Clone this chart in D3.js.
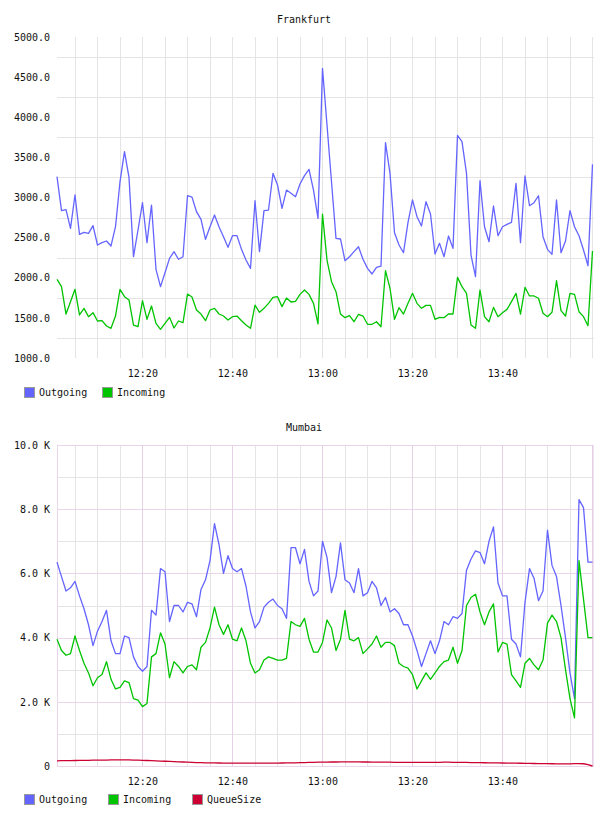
<!DOCTYPE html>
<html>
<head>
<meta charset="utf-8">
<script src="https://cdnjs.cloudflare.com/ajax/libs/d3/7.8.5/d3.min.js"></script>
<style>
body { margin: 0; background: #fff; }
text { font-family: "DejaVu Sans Mono", monospace; font-size: 10px; fill: #111; }
.domain { display: none; }
</style>
</head>
<body>
<div id="chartDiv"></div>
<script>
// one sample per minute, first sample time and end of the x range
var startTime = "12:01:02";
var endTime = "14:00:22";

var frankfurtOut = [3260, 2836, 2848, 2616, 3031, 2541, 2566, 2553, 2649, 2408,
	2437, 2458, 2396, 2636, 3197, 3571, 3251, 2262, 2595, 2935,
	2437, 2906, 2105, 1889, 2063, 2242, 2325, 2230, 2262, 3022,
	3005, 2823, 2728, 2479, 2636, 2782, 2636, 2512, 2379, 2524,
	2524, 2354, 2221, 2117, 2960, 2325, 2836, 2844, 3301, 3156,
	2865, 3093, 3052, 3010, 3168, 3272, 3351, 3093, 2740, 4609,
	3903, 3197, 2491, 2483, 2212, 2262, 2325, 2387, 2230, 2117,
	2047, 2130, 2146, 3683, 3301, 2561, 2408, 2312, 2691, 2969,
	2761, 2645, 2948, 2794, 2296, 2429, 2262, 2520, 2366, 3775,
	3696, 3301, 2283, 2013, 3209, 2636, 2449, 2894, 2524, 2636,
	2666, 2691, 3177, 2437, 3268, 2898, 2935, 3022, 2512, 2354,
	2292, 2969, 2312, 2458, 2836, 2636, 2524, 2346, 2150, 3413];

var frankfurtIn = [1980, 1889, 1548, 1702, 1856, 1536, 1619, 1515, 1565, 1461,
	1465, 1399, 1370, 1523, 1856, 1764, 1723, 1411, 1390, 1714,
	1482, 1648, 1432, 1357, 1432, 1507, 1374, 1461, 1440, 1797,
	1760, 1598, 1548, 1465, 1598, 1619, 1548, 1523, 1473, 1515,
	1523, 1465, 1411, 1370, 1660, 1569, 1619, 1681, 1756, 1764,
	1640, 1748, 1698, 1706, 1793, 1847, 1793, 1681, 1424, 2794,
	2221, 1951, 1826, 1548, 1502, 1527, 1452, 1544, 1523, 1420,
	1420, 1452, 1390, 2088, 1868, 1482, 1627, 1548, 1681, 1806,
	1681, 1619, 1656, 1656, 1482, 1507, 1502, 1548, 1548, 2005,
	1889, 1806, 1411, 1370, 1847, 1515, 1452, 1631, 1515, 1565,
	1606, 1702, 1806, 1548, 1881, 1773, 1773, 1744, 1557, 1515,
	1569, 1963, 1590, 1523, 1806, 1793, 1577, 1515, 1402, 2333];

var mumbaiOut = [6350, 5900, 5450, 5550, 5750, 5300, 4900, 4400, 3750, 4200,
	4500, 4850, 3900, 3500, 3500, 4050, 4000, 3400, 3100, 2950,
	3100, 4850, 4700, 6150, 6050, 4500, 5000, 5000, 4800, 5100,
	5050, 4650, 5500, 5800, 6400, 7550, 6900, 6000, 6550, 6150,
	6050, 6150, 5600, 4800, 4300, 4500, 4950, 5100, 5200, 5000,
	4900, 4600, 6800, 6800, 6300, 6750, 5750, 5300, 5450, 7000,
	6500, 5400, 5900, 6950, 5800, 5700, 5400, 6150, 5300, 5400,
	5750, 5550, 5000, 5250, 4800, 4900, 4750, 4400, 4400, 4050,
	3600, 3100, 3500, 3900, 3500, 3900, 4500, 4400, 4650, 4600,
	4750, 6100, 6450, 6700, 6650, 6300, 7000, 7450, 5700, 5300,
	5300, 3950, 3800, 3400, 5100, 6150, 5850, 5150, 5450, 7350,
	6250, 5900, 5000, 4000, 2900, 2100, 8300, 8050, 6350, 6350];

var mumbaiIn = [3950, 3600, 3450, 3500, 4050, 3600, 3200, 2900, 2500, 2750,
	2850, 3250, 2700, 2400, 2450, 2650, 2600, 2100, 2050, 1850,
	1950, 3400, 3500, 4150, 3800, 2750, 3250, 3100, 2900, 3100,
	3150, 3000, 3700, 3850, 4300, 4950, 4400, 4100, 4400, 3950,
	3900, 4300, 3900, 3200, 2900, 3000, 3300, 3400, 3350, 3300,
	3300, 3350, 4500, 4400, 4350, 4600, 3950, 3550, 3550, 3850,
	4550, 4300, 3600, 3950, 4850, 3950, 3900, 4000, 3500, 3650,
	3800, 4050, 3700, 3850, 3850, 3750, 3200, 3100, 3050, 2850,
	2400, 2650, 2900, 2700, 2900, 3100, 3250, 3300, 3700, 3200,
	3600, 5000, 5250, 5350, 4800, 4400, 4800, 5050, 3550, 3850,
	3800, 2850, 2650, 2450, 3200, 3350, 3150, 3000, 3300, 4450,
	4700, 4500, 4000, 3000, 2100, 1500, 6400, 5200, 4000, 4000];

var mumbaiQueue = [160, 165, 168, 170, 172, 174, 176, 178, 180, 182,
	184, 186, 188, 190, 190, 190, 188, 186, 182, 178,
	172, 166, 160, 154, 148, 142, 136, 130, 124, 118,
	112, 108, 104, 100, 98, 96, 94, 92, 92, 90,
	90, 90, 90, 90, 90, 90, 92, 92, 92, 92,
	94, 96, 98, 100, 104, 108, 112, 116, 118, 120,
	122, 124, 124, 126, 126, 126, 126, 126, 124, 124,
	122, 122, 120, 118, 118, 116, 116, 114, 114, 114,
	112, 112, 112, 114, 116, 116, 118, 118, 116, 114,
	112, 110, 108, 106, 104, 102, 100, 98, 96, 94,
	92, 90, 88, 86, 84, 80, 78, 76, 74, 72,
	70, 68, 66, 66, 68, 72, 74, 70, 40, 0];

var frankfurtTicks = [1000, 1500, 2000, 2500, 3000, 3500, 4000, 4500, 5000];
var frankfurtGrid = [1250, 1750, 2250, 2750, 3250, 3750, 4250, 4750];
var mumbaiTicks = [0, 2000, 4000, 6000, 8000, 10000];
var mumbaiGrid = [1000, 3000, 5000, 7000, 9000];
var timeLabels = ["12:20", "12:40", "13:00", "13:20", "13:40"];

var colors = {Outgoing: "#6464ff", Incoming: "#00c400", QueueSize: "#cc0033"};

var parseTime = d3.timeParse("%H:%M:%S");
var parseLabel = d3.timeParse("%H:%M");
var t0 = parseTime(startTime);
var times = frankfurtOut.map(function(d, i) { return d3.timeMinute.offset(t0, i); });

var svg = d3.select("#chartDiv").append("svg")
	.attr("width", 608)
	.attr("height", 816);

var x = d3.scaleTime()
	.domain([t0, parseTime(endTime)])
	.range([57, 594]);

function drawChart(opts) {
	var g = svg.append("g");
	var y = d3.scaleLinear().domain(opts.domain).range([opts.bottom, opts.top]);
	var gridTimes = d3.timeMinute.every(5).range(x.domain()[0], x.domain()[1]);
	var labelTimes = timeLabels.map(parseLabel);
	var isMajor = function(t) { return t.getMinutes() % 20 == 0; };

	// title
	g.append("text")
		.attr("x", 304)
		.attr("y", opts.top - 17)
		.attr("dy", "0.32em")
		.attr("text-anchor", "middle")
		.attr("font-size", "11px")
		.text(opts.title);

	// minor grid lines
	g.selectAll(".hgrid").data(opts.grid).enter().append("line")
		.attr("x1", 57).attr("x2", 594)
		.attr("y1", function(d) { return Math.round(y(d)) + 0.5; })
		.attr("y2", function(d) { return Math.round(y(d)) + 0.5; })
		.attr("stroke", "#e4e4e4");
	g.selectAll(".vgrid").data(gridTimes.filter(function(t) { return !(opts.pink && isMajor(t)); }))
		.enter().append("line")
		.attr("x1", function(d) { return Math.round(x(d)) + 0.5; })
		.attr("x2", function(d) { return Math.round(x(d)) + 0.5; })
		.attr("y1", opts.top).attr("y2", opts.bottom)
		.attr("stroke", "#e4e4e4");

	// major grid lines, only on the second chart
	if (opts.pink) {
		g.selectAll(".hmajor").data(opts.ticks).enter().append("line")
			.attr("x1", 57).attr("x2", 594)
			.attr("y1", function(d) { return Math.round(y(d)) + 0.5; })
			.attr("y2", function(d) { return Math.round(y(d)) + 0.5; })
			.attr("stroke", "#ead6ea");
		g.selectAll(".vmajor").data(gridTimes.filter(isMajor)).enter().append("line")
			.attr("x1", function(d) { return Math.round(x(d)) + 0.5; })
			.attr("x2", function(d) { return Math.round(x(d)) + 0.5; })
			.attr("y1", opts.top).attr("y2", opts.bottom)
			.attr("stroke", "#e6d0e6");
		g.append("line")
			.attr("x1", 57.5).attr("x2", 57.5)
			.attr("y1", opts.top).attr("y2", opts.bottom)
			.attr("stroke", "#ead6ea");
		g.append("line")
			.attr("x1", 593.5).attr("x2", 593.5)
			.attr("y1", opts.top).attr("y2", opts.bottom)
			.attr("stroke", "#eee0ee");
	}

	// axes
	g.append("g")
		.attr("transform", "translate(57,0)")
		.call(d3.axisLeft(y).tickValues(opts.ticks).tickFormat(opts.format).tickSize(0).tickPadding(7));
	g.append("g")
		.attr("transform", "translate(0," + opts.bottom + ")")
		.call(d3.axisBottom(x).tickValues(labelTimes).tickFormat(d3.timeFormat("%H:%M")).tickSize(0).tickPadding(12));

	// series lines
	var line = d3.line()
		.x(function(d, i) { return x(times[i]); })
		.y(function(d) { return y(d); });
	opts.series.forEach(function(s) {
		g.append("path")
			.attr("d", line(s.values))
			.attr("fill", "none")
			.attr("stroke", colors[s.name])
			.attr("stroke-width", 1.3)
			.attr("stroke-linejoin", "round");
	});

	// legend
	var leg = g.selectAll(".legend").data(opts.series).enter().append("g")
		.attr("transform", function(d, i) { return "translate(" + opts.legendX[i] + "," + opts.legendY + ")"; });
	leg.append("rect")
		.attr("x", 0.5).attr("y", -5.5)
		.attr("width", 10).attr("height", 10)
		.attr("fill", function(d) { return colors[d.name]; })
		.attr("stroke", "#999");
	leg.append("text")
		.attr("x", 15)
		.attr("dy", "0.32em")
		.text(function(d) { return d.name; });
}

drawChart({
	title: "Frankfurt",
	top: 37, bottom: 358,
	domain: [1000, 5000],
	ticks: frankfurtTicks,
	grid: frankfurtGrid,
	format: d3.format(".1f"),
	pink: false,
	series: [{name: "Outgoing", values: frankfurtOut}, {name: "Incoming", values: frankfurtIn}],
	legendX: [24, 102],
	legendY: 393
});

drawChart({
	title: "Mumbai",
	top: 445, bottom: 766,
	domain: [0, 10000],
	ticks: mumbaiTicks,
	grid: mumbaiGrid,
	format: function(d) { return d == 0 ? "0" : (d / 1000).toFixed(1) + " K"; },
	pink: true,
	series: [{name: "Outgoing", values: mumbaiOut}, {name: "Incoming", values: mumbaiIn}, {name: "QueueSize", values: mumbaiQueue}],
	legendX: [24, 108, 192],
	legendY: 800
});
</script>
</body>
</html>
